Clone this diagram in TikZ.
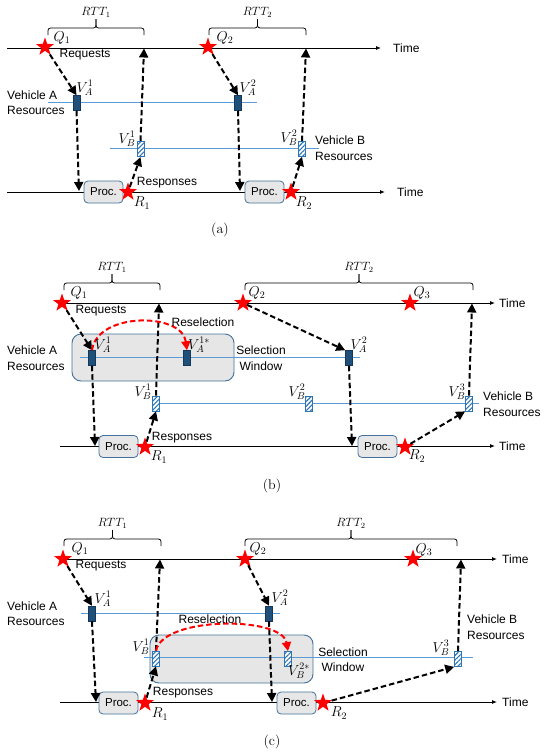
\documentclass[tikz,border=0pt]{standalone}
\usepackage{fontspec}
\newfontfamily\labfont{Liberation Sans}
\usetikzlibrary{shapes.geometric,arrows.meta,patterns.meta}
\definecolor{resA}{RGB}{31,80,121}
\definecolor{resAd}{RGB}{20,55,90}
\definecolor{resline}{RGB}{91,155,213}
\definecolor{hatch}{RGB}{46,117,182}
\definecolor{boxbd}{RGB}{65,113,156}
\definecolor{boxfill}{RGB}{231,231,231}
\definecolor{winfill}{RGB}{230,230,230}
\tikzset{
 txt/.style={font=\labfont\fontsize{12}{15.5}\selectfont, inner sep=0pt, align=left},
 txtc/.style={txt, align=center},
 ml/.style={font=\fontsize{14}{16}\selectfont, inner sep=0pt},
 rtt/.style={font=\fontsize{11.5}{13}\selectfont, inner sep=1.5pt},
 captxt/.style={font=\fontsize{14}{16}\selectfont, inner sep=0pt},
 tl/.style={line width=0.9pt, -{Latex[length=5pt,width=4pt]}},
 resln/.style={draw=resline, line width=0.8pt},
 br/.style={line width=0.8pt, rounded corners=2.5pt},
 resAbox/.style={draw=resAd, fill=resA, line width=0.5pt, minimum width=7pt, minimum height=15pt, inner sep=0pt},
 resBbox/.style={draw=hatch, line width=0.7pt, preaction={fill=white}, pattern={Lines[angle=45,distance=3.2pt,line width=1.1pt]}, pattern color=hatch, minimum width=7pt, minimum height=15pt, inner sep=0pt},
 procbox/.style={draw=boxbd, fill=boxfill, line width=0.8pt, rounded corners=4pt, minimum width=39pt, minimum height=22pt, inner sep=0pt, font=\labfont\fontsize{11.5}{13}\selectfont},
 win/.style={draw=boxbd, fill=winfill, line width=0.9pt, rounded corners=9pt, inner sep=0pt},
 rstar/.style={star, star points=5, star point ratio=2.5, fill=red, draw=none, minimum size=19pt, inner sep=0pt},
 darr/.style={line width=2pt, dash pattern=on 5.5pt off 3pt, -{Triangle[length=9pt,width=9pt]}},
 rarr/.style={red, line width=2pt, dash pattern=on 5.5pt off 3pt, -{Triangle[length=9pt,width=9pt]}},
}
\newcommand{\rttbr}[5]{%
 \draw[br] (#2,#4+7) -- (#2,#4) -- ({(#2+#3)/2},#4) -- ({(#2+#3)/2},#4-9);
 \draw[br] (#3,#4+7) -- (#3,#4) -- ({(#2+#3)/2},#4) -- ({(#2+#3)/2},#4-9);
 \node[rtt, anchor=south] (#1) at ({(#2+#3)/2},#4-9) {$#5$};}
\begin{document}
\begin{tikzpicture}[x=1pt,y=-1pt]
\useasboundingbox (0,0) rectangle (550,753);
%================ (a) ================
\coordinate (aTL0) at (7,48); \coordinate (aTL1) at (381,48);
\coordinate (aBL0) at (7,192); \coordinate (aBL1) at (385,192);
\coordinate (aRA0) at (48,102); \coordinate (aRA1) at (257,102);
\coordinate (aRB0) at (110,148); \coordinate (aRB1) at (319,148);
\draw[resln] (aRA0) -- (aRA1);
\draw[resln] (aRB0) -- (aRB1);
\draw[tl] (aTL0) -- (aTL1);
\draw[tl] (aBL0) -- (aBL1);
\node[txt, anchor=west] (aTime1) at (393,48) {Time};
\node[txt, anchor=west] (aTime2) at (397,192) {Time};
\rttbr{aRTT1}{48}{144}{28}{RTT_1}
\rttbr{aRTT2}{209}{306}{28}{RTT_2}
\node[procbox] (aP1) at (103.5,192) {Proc.};
\node[procbox] (aP2) at (264.5,192) {Proc.};
\node[resAbox] (aVA1) at (76.5,103) {};
\node[resAbox] (aVA2) at (238,103) {};
\node[resBbox] (aVB1) at (140.5,149) {};
\node[resBbox] (aVB2) at (302,149) {};
\node[rstar] (aQ1) at (45,47) {};
\node[rstar] (aQ2) at (208,47) {};
\node[rstar] (aR1) at (128,192) {};
\node[rstar] (aR2) at (291,192) {};
\coordinate (aD1) at (79,191); \coordinate (aD2) at (240,191);
\coordinate (aU1) at (144,48.5); \coordinate (aU2) at (306,48.5);
\draw[darr] (aQ1) -- (aVA1.north);
\draw[darr] (aVA1.south) -- (aD1);
\draw[darr] (aR1) -- (aVB1.south);
\draw[darr] (aVB1.north) -- (aU1);
\draw[darr] (aQ2) -- (aVA2.north);
\draw[darr] (aVA2.south) -- (aD2);
\draw[darr] (aR2) -- (aVB2.south);
\draw[darr] (aVB2.north) -- (aU2);
\node[ml] (aQ1l) at (62,38) {$Q_1$};
\node[ml] (aQ2l) at (225,38) {$Q_2$};
\node[ml] (aR1l) at (142,203) {$R_1$};
\node[ml] (aR2l) at (304,203) {$R_2$};
\node[ml] (aVA1l) at (85,88) {$V_A^1$};
\node[ml] (aVA2l) at (248,88) {$V_A^2$};
\node[ml] (aVB1l) at (127,139) {$V_B^1$};
\node[ml] (aVB2l) at (289,138) {$V_B^2$};
\node[txt] (aReq) at (85,55) {Requests};
\node[txt] (aResp) at (167,183) {Responses};
\node[txt, anchor=west] (aVehA) at (7,102.5) {Vehicle A\\Resources};
\node[txt, anchor=west] (aVehB) at (315,148) {Vehicle B\\Resources};
\node[captxt] (aCap) at (220,230) {(a)};
%================ (b) ================
\node[win, minimum width=162pt, minimum height=47pt] (bWin) at (153,357.5) {};
\coordinate (bTL0) at (60,303); \coordinate (bTL1) at (495,303);
\coordinate (bBL0) at (60,446); \coordinate (bBL1) at (495,446);
\coordinate (bRA0) at (80,357); \coordinate (bRA1) at (360,357);
\coordinate (bRB0) at (153,403); \coordinate (bRB1) at (479,403);
\draw[resln] (bRA0) -- (bRA1);
\draw[resln] (bRB0) -- (bRB1);
\draw[tl] (bTL0) -- (bTL1);
\draw[tl] (bBL0) -- (bBL1);
\node[txt, anchor=west] (bTime1) at (499,303) {Time};
\node[txt, anchor=west] (bTime2) at (499,446) {Time};
\rttbr{bRTT1}{64}{160}{283}{RTT_1}
\rttbr{bRTT2}{245}{473}{283}{RTT_2}
\node[procbox] (bP1) at (118.5,446.5) {Proc.};
\node[procbox] (bP2) at (377.5,446.5) {Proc.};
\node[resAbox] (bVA1) at (92,358) {};
\node[resAbox] (bVA1s) at (187,358) {};
\node[resAbox] (bVA2) at (349,358) {};
\node[resBbox] (bVB1) at (156,403.5) {};
\node[resBbox] (bVB2) at (308.5,403.5) {};
\node[resBbox] (bVB3) at (469,403.5) {};
\node[rstar] (bQ1) at (62,303) {};
\node[rstar] (bQ2) at (243,303) {};
\node[rstar] (bQ3) at (410,303) {};
\node[rstar] (bR1) at (145,447) {};
\node[rstar] (bR2) at (405,447) {};
\coordinate (bD1) at (95,446); \coordinate (bD2) at (352,446);
\coordinate (bU1) at (159,303.5); \coordinate (bU2) at (472,303.5);
\draw[darr] (bQ1) -- (bVA1.north);
\draw[darr] (bVA1.south) -- (bD1);
\draw[darr] (bR1) -- (bVB1.south);
\draw[darr] (bVB1.north) -- (bU1);
\draw[darr] (bQ2) -- (bVA2.north west);
\draw[darr] (bVA2.south) -- (bD2);
\draw[darr] (bR2) -- (bVB3.south west);
\draw[darr] (bVB3.north) -- (bU2);
\draw[rarr] (bVA1.north) .. controls (97,312) and (182,312) .. (bVA1s.north);
\node[ml] (bQ1l) at (79,293) {$Q_1$};
\node[ml] (bQ2l) at (257,293) {$Q_2$};
\node[ml] (bQ3l) at (422,293) {$Q_3$};
\node[ml] (bVA1l) at (103,345) {$V_A^1$};
\node[ml] (bVA1sl) at (199,345) {$V_A^{1*}$};
\node[ml] (bVA2l) at (359,345) {$V_A^2$};
\node[ml] (bVB1l) at (143,392) {$V_B^1$};
\node[ml] (bVB2l) at (297,392) {$V_B^2$};
\node[ml] (bVB3l) at (457,392) {$V_B^3$};
\node[ml] (bR1l) at (159,457) {$R_1$};
\node[ml] (bR2l) at (417,456) {$R_2$};
\node[txt] (bReq) at (101,311) {Requests};
\node[txt] (bResp) at (182,438) {Responses};
\node[txt] (bResel) at (203,322) {Reselection};
\node[txt, anchor=west] (bVehA) at (7,358) {Vehicle A\\Resources};
\node[txtc] (bSelW) at (261,358) {Selection\\Window};
\node[txt, anchor=west] (bVehB) at (483,404) {Vehicle B\\Resources};
\node[captxt] (bCap) at (272,486) {(b)};
%================ (c) ================
\node[win, minimum width=163pt, minimum height=48pt] (cWin) at (231.5,659) {};
\coordinate (cTL0) at (60,559); \coordinate (cTL1) at (497,559);
\coordinate (cBL0) at (60,702); \coordinate (cBL1) at (497,702);
\coordinate (cRA0) at (81,613); \coordinate (cRA1) at (280,613);
\coordinate (cRB0) at (144,657); \coordinate (cRB1) at (473,657);
\draw[resln] (cRA0) -- (cRA1);
\draw[resln] (cRB0) -- (cRB1);
\draw[tl] (cTL0) -- (cTL1);
\draw[tl] (cBL0) -- (cBL1);
\node[txt, anchor=west] (cTime1) at (502,559) {Time};
\node[txt, anchor=west] (cTime2) at (502,702) {Time};
\rttbr{cRTT1}{64}{161}{539}{RTT_1}
\rttbr{cRTT2}{245}{457}{539}{RTT_2}
\node[procbox] (cP1) at (118.5,703) {Proc.};
\node[procbox] (cP2) at (296.5,703) {Proc.};
\node[resAbox] (cVA1) at (92,613.5) {};
\node[resAbox] (cVA2) at (269,613.5) {};
\node[resBbox] (cVB1) at (156,658.5) {};
\node[resBbox] (cVB2s) at (288,659) {};
\node[resBbox] (cVB3) at (458,659) {};
\node[rstar] (cQ1) at (63,559) {};
\node[rstar] (cQ2) at (245,559) {};
\node[rstar] (cQ3) at (413,559) {};
\node[rstar] (cR1) at (145,703) {};
\node[rstar] (cR2) at (323,703) {};
\coordinate (cD1) at (96,702); \coordinate (cD2) at (272,702);
\coordinate (cU1) at (160,559.5); \coordinate (cU2) at (461,559.5);
\draw[darr] (cQ1) -- (cVA1.north);
\draw[darr] (cVA1.south) -- (cD1);
\draw[darr] (cR1) -- (cVB1.south);
\draw[darr] (cVB1.north) -- (cU1);
\draw[darr] (cQ2) -- (cVA2.north);
\draw[darr] (cVA2.south) -- (cD2);
\draw[darr] (cR2) -- (cVB3.south west);
\draw[darr] (cVB3.north) -- (cU2);
\draw[rarr] (cVB1.north) .. controls (163,616) and (282,616) .. (cVB2s.north);
\node[ml] (cQ1l) at (80,549) {$Q_1$};
\node[ml] (cQ2l) at (258,549) {$Q_2$};
\node[ml] (cQ3l) at (424,550) {$Q_3$};
\node[ml] (cVA1l) at (103,599) {$V_A^1$};
\node[ml] (cVA2l) at (280,598) {$V_A^2$};
\node[ml] (cVB1l) at (141,647) {$V_B^1$};
\node[ml] (cVB2sl) at (299,671) {$V_B^{2*}$};
\node[ml] (cVB3l) at (441,648) {$V_B^3$};
\node[ml] (cR1l) at (160,714) {$R_1$};
\node[ml] (cR2l) at (339,713) {$R_2$};
\node[txt] (cReq) at (101,566) {Requests};
\node[txt] (cResp) at (183,693) {Responses};
\node[txt] (cResel) at (210,619) {Reselection};
\node[txt, anchor=west] (cVehA) at (7,613.5) {Vehicle A\\Resources};
\node[txtc] (cSelW) at (343,659.5) {Selection\\Window};
\node[txt, anchor=west] (cVehB) at (467,627) {Vehicle B\\Resources};
\node[captxt] (cCap) at (272,742) {(c)};
\end{tikzpicture}
\end{document}
